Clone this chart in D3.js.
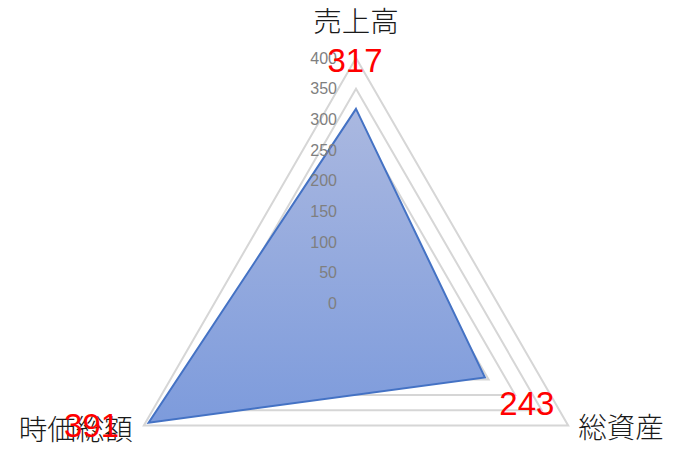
<!DOCTYPE html>
<html>
<head>
<meta charset="utf-8">
<script src="https://cdn.jsdelivr.net/npm/d3@7"></script>
<style>
  html, body { margin: 0; padding: 0; background: #fff; }
  svg { display: block; }
</style>
</head>
<body>
<div id="chart"></div>
<script>
// data
const categories = [`売上高`, `総資産`, `時価総額`];
const values = [317, 243, 391];
const gridTicks = [0, 50, 100, 150, 200, 250, 300, 350, 400];

const width = 681;
const height = 462;
const cx = 356;
const cy = 303;

// label placement, tuned by eye (dx, dy from the vertex)
const catLabelPos = [
  { dx: 0, dy: -39, anchor: `middle` },
  { dx: 10, dy: 0, anchor: `start` },
  { dx: -11, dy: 2, anchor: `end` },
];
const valLabelPos = [
  { dx: -1, dy: -37 },
  { dx: 42, dy: 38 },
  { dx: -57, dy: 14 },
];

const r = d3.scaleLinear().domain([0, 400]).range([0, 245]);
const angle = (i) => (i * 2 * Math.PI) / categories.length;
const pt = (i, v) => [cx + r(v) * Math.sin(angle(i)), cy - r(v) * Math.cos(angle(i))];

const svg = d3
  .select(`#chart`)
  .append(`svg`)
  .attr(`width`, width)
  .attr(`height`, height);

const grad = svg
  .append(`defs`)
  .append(`linearGradient`)
  .attr(`id`, `fillGrad`)
  .attr(`x1`, 0)
  .attr(`y1`, 0)
  .attr(`x2`, 0)
  .attr(`y2`, 1);
grad.append(`stop`).attr(`offset`, `0%`).attr(`stop-color`, `#aab8e0`);
grad.append(`stop`).attr(`offset`, `100%`).attr(`stop-color`, `#7d9bdc`);

const line = d3.line().curve(d3.curveLinearClosed);

// grid triangles
svg
  .append(`g`)
  .selectAll(`path`)
  .data(gridTicks.filter((t) => t > 0))
  .enter()
  .append(`path`)
  .attr(`d`, (t) => line(categories.map((c, i) => pt(i, t))))
  .attr(`fill`, `none`)
  .attr(`stroke`, `#d6d6d6`)
  .attr(`stroke-width`, 2);

// series area
svg
  .append(`path`)
  .attr(`d`, line(values.map((v, i) => pt(i, v))))
  .attr(`fill`, `url(#fillGrad)`)
  .attr(`stroke`, `#4472c4`)
  .attr(`stroke-width`, 2)
  .attr(`stroke-linejoin`, `miter`);

// value axis tick labels
svg
  .append(`g`)
  .selectAll(`text`)
  .data(gridTicks)
  .enter()
  .append(`text`)
  .attr(`x`, cx - 19)
  .attr(`y`, (t) => cy - r(t))
  .attr(`dy`, `0.36em`)
  .attr(`text-anchor`, `end`)
  .attr(`fill`, `#7f7f7f`)
  .style(`font-family`, `"Liberation Sans", Arial, sans-serif`)
  .style(`font-size`, `16px`)
  .text((t) => t);

// category labels
svg
  .append(`g`)
  .selectAll(`text`)
  .data(categories)
  .enter()
  .append(`text`)
  .attr(`x`, (c, i) => pt(i, 400)[0] + catLabelPos[i].dx)
  .attr(`y`, (c, i) => pt(i, 400)[1] + catLabelPos[i].dy)
  .attr(`dominant-baseline`, `central`)
  .attr(`text-anchor`, (c, i) => catLabelPos[i].anchor)
  .attr(`fill`, `#1a1a1a`)
  .style(`font-family`, `"Noto Sans CJK JP", sans-serif`)
  .style(`font-size`, `28.5px`)
  .style(`font-weight`, 300)
  .text((c) => c);

// data labels
svg
  .append(`g`)
  .selectAll(`text`)
  .data(values)
  .enter()
  .append(`text`)
  .attr(`x`, (v, i) => pt(i, v)[0] + valLabelPos[i].dx)
  .attr(`y`, (v, i) => pt(i, v)[1] + valLabelPos[i].dy)
  .attr(`text-anchor`, `middle`)
  .attr(`fill`, `#ff0000`)
  .style(`font-family`, `"Liberation Sans", Arial, sans-serif`)
  .style(`font-size`, `33px`)
  .text((v) => v);
</script>
</body>
</html>
